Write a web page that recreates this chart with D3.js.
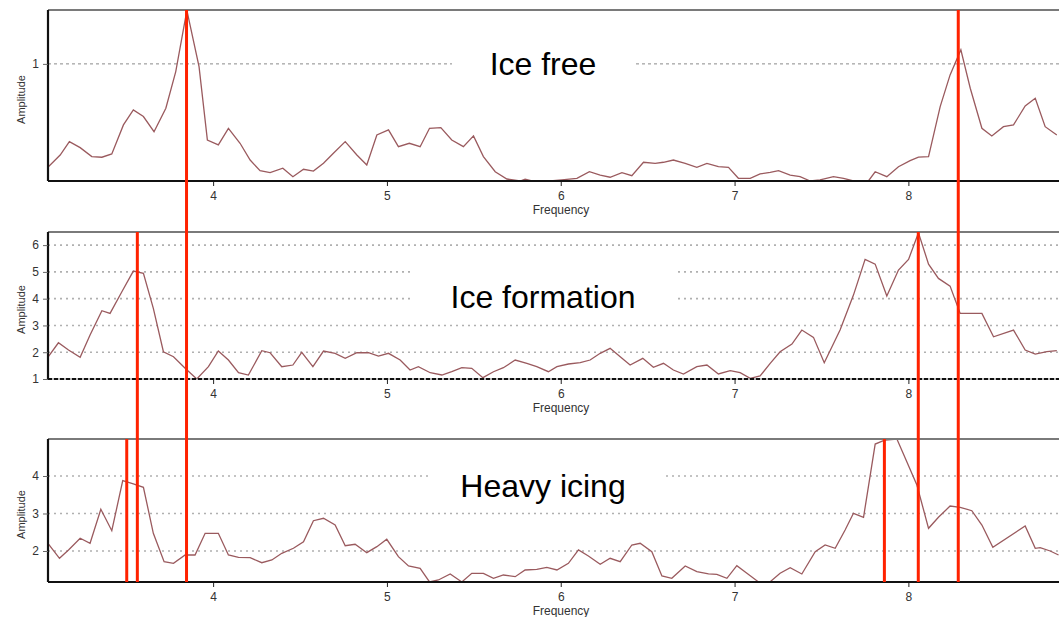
<!DOCTYPE html>
<html>
 <head>
 <title>Spectra</title>
 <meta charset="UTF-8">
 <style type="text/css">
   body { margin: 0; background: #fff; }
   text { font-family: Arial, "Liberation Sans", sans-serif; }
 </style>
 <script src="https://d3js.org/d3.v7.min.js"></script>
 </head>
 <body>
 <script type="text/javascript">

    // [frequency, amplitude]
    var iceFree = [
      [3.052,0.122],[3.120,0.222],[3.173,0.336],[3.235,0.285],[3.302,0.208],[3.360,0.203],[3.417,0.231],
      [3.484,0.479],[3.541,0.607],[3.599,0.550],[3.660,0.421],[3.728,0.621],[3.785,0.934],[3.849,1.456],
      [3.919,0.977],[3.967,0.350],[4.030,0.308],[4.088,0.450],[4.155,0.322],[4.213,0.179],[4.270,0.088],
      [4.328,0.071],[4.401,0.109],[4.459,0.037],[4.520,0.100],[4.577,0.085],[4.635,0.151],[4.692,0.237],
      [4.760,0.336],[4.827,0.222],[4.884,0.137],[4.942,0.393],[5.009,0.436],[5.066,0.293],[5.129,0.322],
      [5.191,0.293],[5.245,0.450],[5.310,0.456],[5.373,0.350],[5.440,0.293],[5.498,0.385],[5.555,0.208],
      [5.623,0.079],[5.690,0.017],[5.766,0.000],[5.795,0.015],[5.834,0.000],[5.939,0.000],[6.006,0.009],
      [6.093,0.023],[6.165,0.079],[6.227,0.051],[6.284,0.032],[6.352,0.071],[6.409,0.045],[6.476,0.160],
      [6.543,0.151],[6.591,0.160],[6.648,0.179],[6.716,0.151],[6.783,0.117],[6.841,0.151],[6.907,0.122],
      [6.965,0.117],[7.022,0.023],[7.090,0.023],[7.147,0.060],[7.205,0.074],[7.253,0.088],[7.320,0.051],
      [7.377,0.037],[7.435,0.000],[7.492,0.009],[7.569,0.037],[7.627,0.023],[7.684,0.000],[7.770,0.000],
      [7.809,0.079],[7.876,0.037],[7.943,0.122],[8.010,0.174],[8.058,0.203],[8.116,0.208],[8.183,0.635],
      [8.240,0.906],[8.302,1.120],[8.356,0.792],[8.423,0.450],[8.480,0.385],[8.547,0.464],[8.605,0.479],
      [8.672,0.641],[8.730,0.707],[8.787,0.464],[8.854,0.393]
    ];

    var iceFormation = [
      [3.052,1.832],[3.110,2.354],[3.168,2.082],[3.235,1.810],[3.292,2.642],[3.360,3.549],[3.407,3.451],
      [3.475,4.257],[3.541,5.030],[3.599,4.944],[3.656,3.638],[3.714,2.019],[3.772,1.832],[3.839,1.399],
      [3.906,1.000],[3.973,1.459],[4.030,2.045],[4.088,1.709],[4.146,1.235],[4.203,1.149],[4.280,2.056],
      [4.328,1.981],[4.395,1.459],[4.459,1.522],[4.510,1.996],[4.574,1.459],[4.635,2.045],[4.702,1.959],
      [4.760,1.772],[4.827,1.981],[4.894,1.981],[4.951,1.858],[5.009,1.959],[5.076,1.709],[5.133,1.336],
      [5.181,1.459],[5.249,1.235],[5.316,1.149],[5.373,1.272],[5.431,1.422],[5.488,1.399],[5.552,1.049],
      [5.613,1.272],[5.670,1.422],[5.738,1.709],[5.805,1.586],[5.862,1.459],[5.929,1.272],[5.978,1.459],
      [6.044,1.560],[6.112,1.608],[6.169,1.709],[6.227,1.959],[6.284,2.146],[6.342,1.832],[6.399,1.522],
      [6.472,1.772],[6.533,1.437],[6.591,1.586],[6.648,1.336],[6.706,1.187],[6.783,1.459],[6.841,1.522],
      [6.907,1.187],[6.975,1.310],[7.032,1.235],[7.090,1.026],[7.147,1.112],[7.205,1.586],[7.262,2.019],
      [7.330,2.306],[7.387,2.828],[7.454,2.556],[7.516,1.608],[7.607,2.828],[7.684,4.134],[7.751,5.466],
      [7.809,5.291],[7.876,4.097],[7.943,5.067],[8.001,5.466],[8.058,6.459],[8.116,5.291],[8.173,4.757],
      [8.240,4.470],[8.298,3.451],[8.423,3.451],[8.490,2.578],[8.605,2.828],[8.672,2.082],[8.730,1.933],
      [8.797,2.019],[8.854,2.056]
    ];

    var heavyIcing = [
      [3.052,2.187],[3.116,1.805],[3.168,2.027],[3.235,2.339],[3.292,2.205],[3.354,3.112],[3.417,2.541],
      [3.480,3.875],[3.541,3.787],[3.599,3.699],[3.656,2.472],[3.718,1.715],[3.772,1.672],[3.839,1.893],
      [3.896,1.893],[3.954,2.472],[4.030,2.472],[4.088,1.893],[4.146,1.832],[4.213,1.821],[4.280,1.688],
      [4.338,1.760],[4.395,1.939],[4.462,2.072],[4.520,2.248],[4.577,2.808],[4.635,2.872],[4.702,2.693],
      [4.760,2.141],[4.817,2.179],[4.884,1.955],[4.942,2.115],[4.999,2.312],[5.066,1.848],[5.124,1.600],
      [5.191,1.539],[5.245,1.175],[5.296,1.227],[5.364,1.387],[5.431,1.175],[5.488,1.405],[5.555,1.405],
      [5.613,1.272],[5.670,1.360],[5.738,1.315],[5.795,1.493],[5.862,1.512],[5.920,1.565],[5.978,1.493],
      [6.044,1.672],[6.102,2.027],[6.159,1.867],[6.227,1.645],[6.284,1.805],[6.342,1.715],[6.409,2.160],
      [6.457,2.205],[6.524,1.981],[6.582,1.333],[6.639,1.272],[6.716,1.600],[6.783,1.448],[6.850,1.387],
      [6.898,1.379],[6.956,1.272],[7.013,1.608],[7.071,1.405],[7.138,1.175],[7.205,1.181],[7.262,1.405],
      [7.320,1.555],[7.387,1.387],[7.464,1.981],[7.521,2.160],[7.579,2.072],[7.636,2.560],[7.684,3.005],
      [7.742,2.899],[7.809,4.853],[7.867,4.960],[7.934,4.985],[7.991,4.381],[8.049,3.760],[8.116,2.605],
      [8.173,2.899],[8.240,3.200],[8.298,3.165],[8.365,3.075],[8.423,2.693],[8.486,2.099],[8.672,2.667],
      [8.730,2.072],[8.758,2.088],[8.816,2.000],[8.864,1.893]
    ];

    var panelTitles = ["Ice free", "Ice formation", "Heavy icing"];
    var panelSeries = [iceFree, iceFormation, heavyIcing];
    var yDomains = [[0, 1.46], [1, 6.49], [1.173, 4.987]];
    var yTickValues = [[1], [1, 2, 3, 4, 5, 6], [2, 3, 4]];
    var xTickValues = [4, 5, 6, 7, 8];

    // red marker lines: frequency and the first panel they start in
    var markerFreqs = [3.847, 8.287, 3.564, 8.057, 3.503, 7.862];
    var markerStart = [0, 0, 1, 1, 2, 2];

    var svgWidth = 1059, svgHeight = 617;
    var plotLeft = 48, plotRight = 1110;
    var panels = [
        {top: 10, bottom: 181, box: [452, 40, 181, 50]},
        {top: 232, bottom: 379, box: [413, 258, 261, 57]},
        {top: 439, bottom: 582, box: [428, 455, 234, 54]}
    ];

    var x = d3.scaleLinear()
        .domain([3.05, 9.16])
        .range([plotLeft, plotRight]);

    var svg = d3.select("body")
        .append("svg")
        .attr("width", svgWidth)
        .attr("height", svgHeight);

    panels.forEach(function(p, i) {
        var y = d3.scaleLinear()
            .domain(yDomains[i])
            .range([p.bottom, p.top]);

        var g = svg.append("g");

        svg.append("clipPath")
            .attr("id", "clip" + i)
            .append("rect")
            .attr("x", plotLeft)
            .attr("y", p.top)
            .attr("width", plotRight - plotLeft)
            .attr("height", p.bottom - p.top);

        // grid lines
        g.selectAll(".grid")
            .data(yTickValues[i].filter(function(v) { return v > yDomains[i][0]; }))
            .enter().append("line")
            .attr("x1", plotLeft)
            .attr("x2", plotRight)
            .attr("y1", function(d) { return y(d); })
            .attr("y2", function(d) { return y(d); })
            .attr("stroke", i == 0 ? "#8a8a8a" : "#b0b0b0")
            .attr("stroke-width", i == 0 ? 1 : 1.6)
            .attr("stroke-dasharray", i == 0 ? "3,3" : "2,4");

        // white box behind the title
        g.append("rect")
            .attr("x", p.box[0]).attr("y", p.box[1])
            .attr("width", p.box[2]).attr("height", p.box[3])
            .attr("fill", "#fff");

        g.append("text")
            .attr("x", 543)
            .attr("y", i == 0 ? 75 : (i == 1 ? 308 : 497))
            .attr("text-anchor", "middle")
            .attr("font-size", 32)
            .attr("fill", "#000")
            .text(panelTitles[i]);

        // spectrum
        var line = d3.line()
            .x(function(d) { return x(d[0]); })
            .y(function(d) { return y(d[1]); });

        g.append("path")
            .attr("d", line(panelSeries[i]))
            .attr("clip-path", "url(#clip" + i + ")")
            .attr("fill", "none")
            .attr("stroke", "#9a5a5e")
            .attr("stroke-width", 1.3);

        // frame: grey top, black left and bottom
        g.append("line")
            .attr("x1", plotLeft).attr("x2", plotRight)
            .attr("y1", p.top).attr("y2", p.top)
            .attr("stroke", "#7a7a7a").attr("stroke-width", 2);

        g.append("line")
            .attr("x1", plotLeft).attr("x2", plotLeft)
            .attr("y1", p.top).attr("y2", p.bottom)
            .attr("stroke", "#111").attr("stroke-width", 2.2);

        if (i == 1) {
            g.append("line")
                .attr("x1", plotLeft).attr("x2", plotRight)
                .attr("y1", p.bottom).attr("y2", p.bottom)
                .attr("stroke", "#777").attr("stroke-width", 1);
            g.append("line")
                .attr("x1", plotLeft).attr("x2", plotRight)
                .attr("y1", p.bottom).attr("y2", p.bottom)
                .attr("stroke", "#111").attr("stroke-width", 2.2)
                .attr("stroke-dasharray", "4,2");
        } else {
            g.append("line")
                .attr("x1", plotLeft).attr("x2", plotRight)
                .attr("y1", p.bottom).attr("y2", p.bottom)
                .attr("stroke", "#111").attr("stroke-width", 2.2);
        }

        // x axis
        var xAxis = d3.axisBottom(x)
            .tickValues(xTickValues)
            .tickSize(4)
            .tickPadding(5)
            .tickFormat(d3.format("d"));

        var xg = g.append("g")
            .attr("transform", "translate(0," + (p.bottom + 1) + ")")
            .call(xAxis);
        xg.select(".domain").remove();
        xg.selectAll("line").attr("stroke", "#222");
        xg.selectAll("text")
            .attr("font-size", 12)
            .attr("fill", "#333");

        g.append("text")
            .attr("x", 561)
            .attr("y", p.bottom + 33)
            .attr("text-anchor", "middle")
            .attr("font-size", 12)
            .attr("fill", "#333")
            .text("Frequency");

        // y axis
        var yAxis = d3.axisLeft(y)
            .tickValues(yTickValues[i])
            .tickSize(5)
            .tickPadding(4)
            .tickFormat(d3.format("d"));

        var yg = g.append("g")
            .attr("transform", "translate(" + plotLeft + ",0)")
            .call(yAxis);
        yg.select(".domain").remove();
        yg.selectAll("line").attr("stroke", "#666");
        yg.selectAll("text")
            .attr("font-size", 12)
            .attr("fill", "#333");

        g.append("text")
            .attr("transform", "translate(25," + ((p.top + p.bottom) / 2 + 4) + ") rotate(-90)")
            .attr("text-anchor", "middle")
            .attr("font-size", 11)
            .attr("fill", "#333")
            .text("Amplitude");
    });

    // red marker lines drawn on top of everything
    svg.selectAll(".marker")
        .data(markerFreqs)
        .enter().append("line")
        .attr("x1", function(d) { return x(d); })
        .attr("x2", function(d) { return x(d); })
        .attr("y1", function(d, k) { return panels[markerStart[k]].top; })
        .attr("y2", panels[2].bottom)
        .attr("stroke", "#ff2200")
        .attr("stroke-width", 3);

 </script>
 </body>
</html>
